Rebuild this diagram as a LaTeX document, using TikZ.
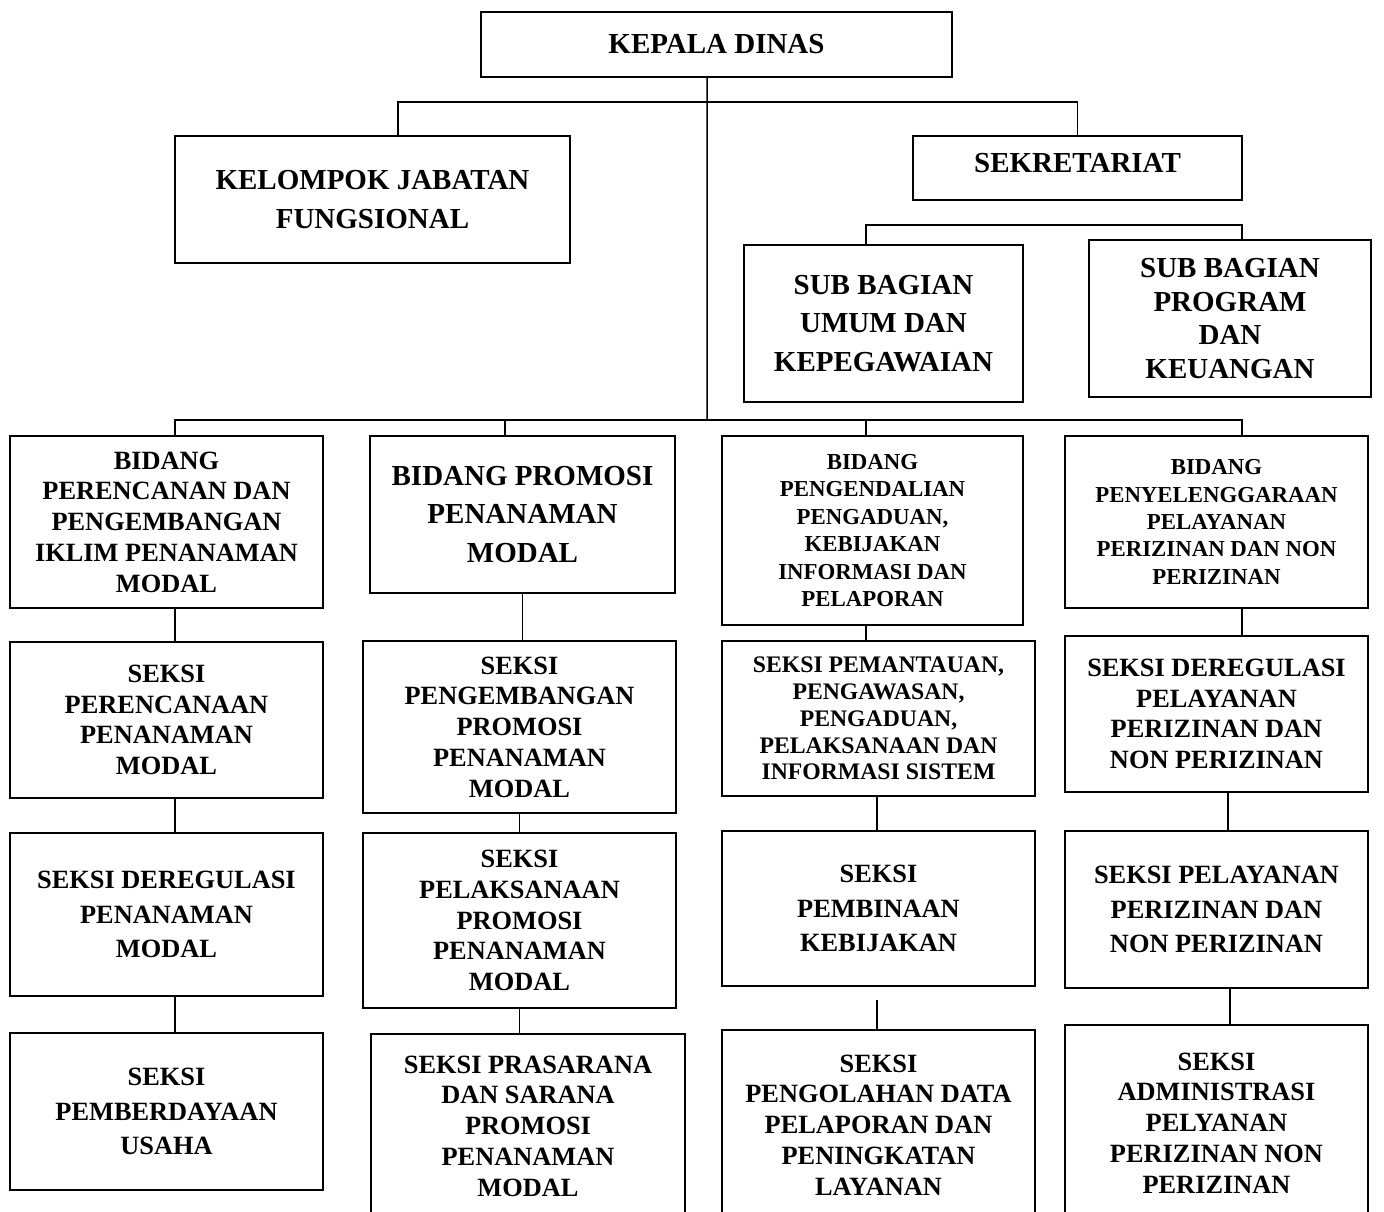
\documentclass[tikz,border=0pt]{standalone}
\usepackage{fontspec}
\setmainfont{Liberation Serif}
\usepackage{tikz}
\usetikzlibrary{positioning}

\begin{document}
\begin{tikzpicture}[x=0.02cm, y=-0.02cm, align=center,
    box/.style={rectangle, draw, line width=1.1pt, inner sep=0pt, align=center},
    big/.style={font=\bfseries\fontsize{16.5}{22}\selectfont},
    mid/.style={font=\bfseries\fontsize{15}{17.5}\selectfont},
    loose/.style={font=\bfseries\fontsize{15}{19.8}\selectfont},
    small/.style={font=\bfseries\fontsize{13}{15.6}\selectfont},
    line/.style={line width=0.85pt}]
    \useasboundingbox (0,0) rectangle (1384,1212);
    % Pimpinan dan sekretariat
    \node[box, big, minimum width=9.42cm, minimum height=1.30cm] (kd) at (716.5,44.5) {KEPALA DINAS};
    \node[box, big, font=\bfseries\fontsize{16.5}{22.5}\selectfont, minimum width=7.90cm, minimum height=2.54cm] (kjf) at (372.5,199.5) {KELOMPOK JABATAN\\FUNGSIONAL};
    \node[box, big, minimum width=6.58cm, minimum height=1.28cm, text depth=0.2cm] (sek) at (1077.5,168) {SEKRETARIAT};
    \node[box, big, minimum width=5.58cm, minimum height=3.14cm] (sbu) at (883.5,323.5) {SUB BAGIAN\\UMUM DAN\\KEPEGAWAIAN};
    \node[box, font=\bfseries\fontsize{16.5}{19}\selectfont, minimum width=5.64cm, minimum height=3.14cm] (sbp) at (1230,318.5) {SUB BAGIAN\\PROGRAM\\DAN\\KEUANGAN};
    % Bidang
    \node[box, mid, minimum width=6.26cm, minimum height=3.44cm] (b1) at (166.5,522) {BIDANG\\PERENCANAN DAN\\PENGEMBANGAN\\IKLIM PENANAMAN\\MODAL};
    \node[box, big, minimum width=6.10cm, minimum height=3.14cm] (b2) at (522.5,514.5) {BIDANG PROMOSI\\PENANAMAN\\MODAL};
    \node[box, small, minimum width=6.02cm, minimum height=3.78cm] (b3) at (872.5,530.5) {BIDANG\\PENGENDALIAN\\PENGADUAN,\\KEBIJAKAN\\INFORMASI DAN\\PELAPORAN};
    \node[box, small, minimum width=6.06cm, minimum height=3.44cm] (b4) at (1216.5,522) {BIDANG\\PENYELENGGARAAN\\PELAYANAN\\PERIZINAN DAN NON\\PERIZINAN};
    % Seksi kolom 1
    \node[box, mid, minimum width=6.26cm, minimum height=3.12cm] (s1a) at (166.5,720) {SEKSI\\PERENCANAAN\\PENANAMAN\\MODAL};
    \node[box, loose, minimum width=6.26cm, minimum height=3.26cm] (s1b) at (166.5,914.5) {SEKSI DEREGULASI\\PENANAMAN\\MODAL};
    \node[box, loose, minimum width=6.26cm, minimum height=3.14cm] (s1c) at (166.5,1111.5) {SEKSI\\PEMBERDAYAAN\\USAHA};
    % Seksi kolom 2
    \node[box, mid, minimum width=6.26cm, minimum height=3.44cm] (s2a) at (519.5,727) {SEKSI\\PENGEMBANGAN\\PROMOSI\\PENANAMAN\\MODAL};
    \node[box, mid, minimum width=6.26cm, minimum height=3.50cm] (s2b) at (519.5,920.5) {SEKSI\\PELAKSANAAN\\PROMOSI\\PENANAMAN\\MODAL};
    \node[box, mid, minimum width=6.28cm, minimum height=3.68cm] (s2c) at (528,1126) {SEKSI PRASARANA\\DAN SARANA\\PROMOSI\\PENANAMAN\\MODAL};
    % Seksi kolom 3
    \node[box, font=\bfseries\fontsize{13.5}{15.3}\selectfont, minimum width=6.26cm, minimum height=3.10cm] (s3a) at (878.5,718.5) {SEKSI PEMANTAUAN,\\PENGAWASAN,\\PENGADUAN,\\PELAKSANAAN DAN\\INFORMASI SISTEM};
    \node[box, loose, minimum width=6.26cm, minimum height=3.10cm] (s3b) at (878.5,908.5) {SEKSI\\PEMBINAAN\\KEBIJAKAN};
    \node[box, mid, minimum width=6.26cm, minimum height=3.80cm] (s3c) at (878.5,1125) {SEKSI\\PENGOLAHAN DATA\\PELAPORAN DAN\\PENINGKATAN\\LAYANAN};
    % Seksi kolom 4
    \node[box, mid, minimum width=6.06cm, minimum height=3.12cm] (s4a) at (1216.5,714) {SEKSI DEREGULASI\\PELAYANAN\\PERIZINAN DAN\\NON PERIZINAN};
    \node[box, loose, minimum width=6.06cm, minimum height=3.14cm] (s4b) at (1216.5,909.5) {SEKSI PELAYANAN\\PERIZINAN DAN\\NON PERIZINAN};
    \node[box, mid, minimum width=6.06cm, minimum height=3.92cm] (s4c) at (1216.5,1123) {SEKSI\\ADMINISTRASI\\PELYANAN\\PERIZINAN NON\\PERIZINAN};
    % Garis pimpinan
    \coordinate (atas) at (707,102);
    \coordinate (hub) at (707,420);
    \draw[line] ([xshift=-0.19cm]kd.south) -- (hub);
    \draw[line] ([xshift=0.51cm]kjf.north) |- (atas) -| (sek.north);
    \draw[line] ([xshift=-0.35cm]sbu.north) -- ++(0,0.38cm) -| ([xshift=0.24cm]sbp.north);
    % Garis bidang
    \draw[line] ([xshift=0.17cm]b1.north) |- (hub) -| ([xshift=0.51cm]b4.north);
    \draw[line] ([xshift=-0.35cm]b2.north) -- ([xshift=-0.35cm]b2.north |- hub);
    \draw[line] ([xshift=-0.13cm]b3.north) -- ([xshift=-0.13cm]b3.north |- hub);
    % Garis seksi
    \foreach \a/\b/\dx in {b1/s1a/0.17, s1a/s1b/0.17, s1b/s1c/0.17,
                           b2/s2a/0, s2a/s2b/0, s2b/s2c/0,
                           b3/s3a/-0.13, s3a/s3b/-0.03,
                           b4/s4a/0.51, s4a/s4b/0.23, s4b/s4c/0.27}
        \draw[line] ([xshift=\dx cm]\a.south) -- ([xshift=\dx cm]\a.south |- \b.north);
    \draw[line] ([xshift=-0.03cm, yshift=-0.26cm]s3b.south) -- ([xshift=-0.03cm]s3b.south |- s3c.north);
\end{tikzpicture}
\end{document}
